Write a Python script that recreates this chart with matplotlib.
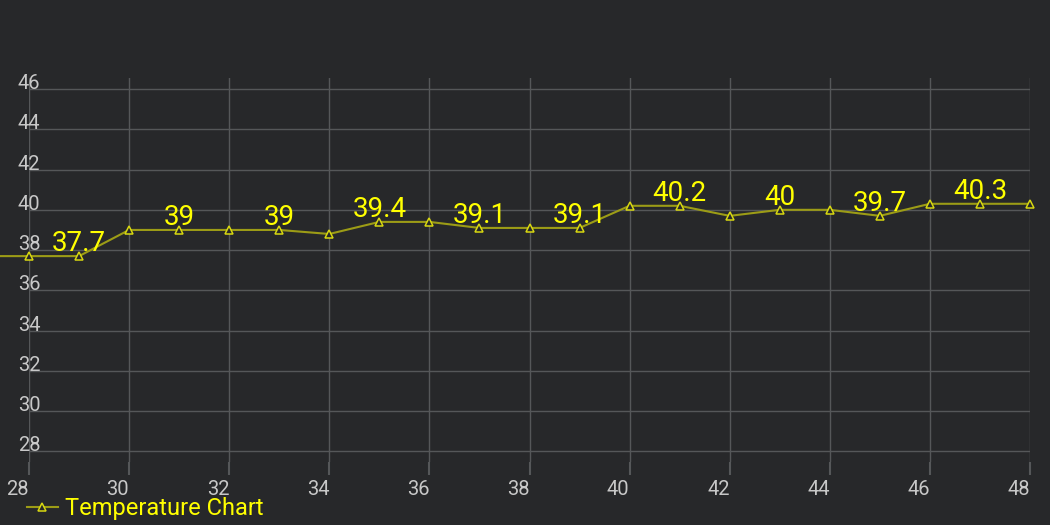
import matplotlib
matplotlib.use("Agg")
import matplotlib.pyplot as plt
from matplotlib.lines import Line2D

plt.rcParams['font.family'] = ['Roboto', 'DejaVu Sans']

# data
days = [27, 28, 29, 30, 31, 32, 33, 34, 35, 36, 37, 38, 39, 40, 41, 42, 43, 44, 45, 46, 47, 48]
temps = [37.7, 37.7, 37.7, 39.0, 39.0, 39.0, 39.0, 38.8, 39.4, 39.4, 39.1, 39.1, 39.1,
         40.2, 40.2, 39.7, 40.0, 40.0, 39.7, 40.3, 40.3, 40.3]
x_ticks = [28, 30, 32, 34, 36, 38, 40, 42, 44, 46, 48]
y_ticks = [28, 30, 32, 34, 36, 38, 40, 42, 44, 46]
series_name = "Temperature Chart"

BG = "#27282a"
LINE = "#9c9c16"
LABEL = "#ffff00"
GRID = "#555759"
TICK = "#c8c8c8"

W, H = 1050, 525
fig = plt.figure(figsize=(W / 100, H / 100), dpi=100, facecolor=BG)
ax = fig.add_axes([29 / W, (H - 462) / H, (1030 - 29) / W, (462 - 78) / H])
ax.set_facecolor(BG)

ax.plot(days, temps, color=LINE, lw=1.5, marker="^", ms=6, mfc=BG, mec="#d8d810",
        mew=1.1, clip_on=False, zorder=3)

# value labels on every other point
for d, t in zip(days, temps):
    if d % 2 == 1 and d >= 29:
        lab = f"{t:g}"
        ax.annotate(lab, (d, t), xytext=(0, 5), textcoords="offset pixels",
                    ha="center", va="baseline", color=LABEL, fontsize=20, zorder=4)

ax.set_xlim(28, 48)
ax.set_ylim(27.47, 46.55)
ax.set_xticks(x_ticks)
ax.set_yticks(y_ticks)
ax.grid(True, color=GRID, lw=1)
for s in ax.spines.values():
    s.set_visible(False)

ax.tick_params(axis="x", colors=GRID, length=9, width=1.5, labelcolor=TICK,
               labelsize=14.5, pad=4)
for lbl in ax.get_xticklabels():
    lbl.set_ha("right")
ax.tick_params(axis="y", length=0, labelcolor=TICK, labelsize=14.5, pad=0)
for lbl in ax.get_yticklabels():
    lbl.set_ha("center")
    lbl.set_va("baseline")

handle = Line2D([], [], color=LINE, lw=1.5, marker="^", ms=6, mfc=BG, mec="#d8d810", mew=1.1)
leg = fig.legend([handle], [series_name], loc="center left",
                 bbox_to_anchor=(27 / W, 1 - 509 / H), frameon=False,
                 fontsize=17, handlelength=1.3, handletextpad=0.3, borderpad=0,
                 borderaxespad=0)
for txt in leg.get_texts():
    txt.set_color(LABEL)

fig.savefig("out.png", dpi=100, facecolor=BG)
